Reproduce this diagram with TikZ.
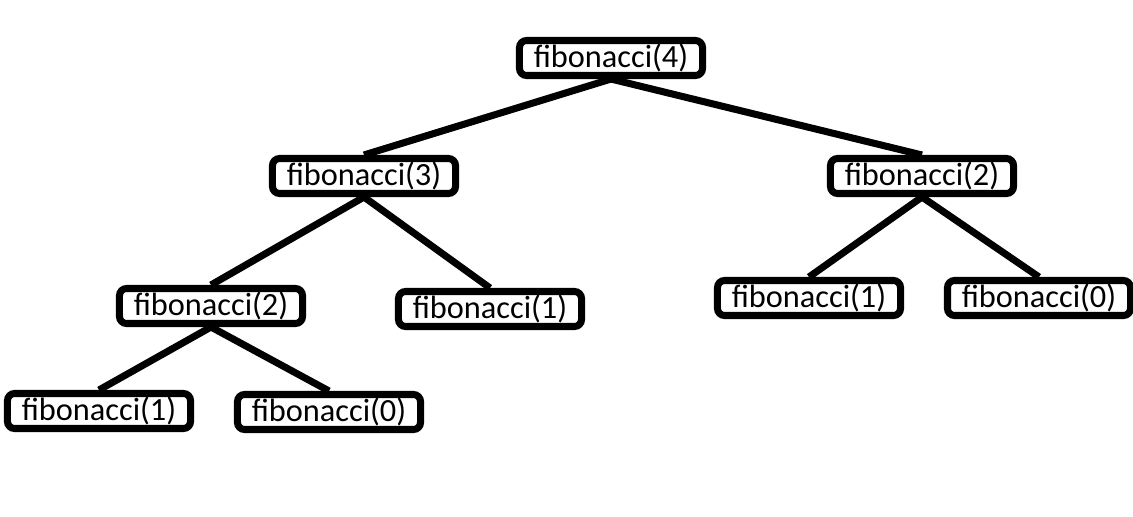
\documentclass[tikz,border=0pt]{standalone}
\usepackage{fontspec}
\setmainfont{Carlito}
\usepackage{tikz}
\usetikzlibrary{calc}

\begin{document}
\begin{tikzpicture}[x=0.025cm,y=-0.025cm,
  call/.style={draw=black,fill=white,line width=5pt,rounded corners=5pt,
    minimum width=4.575cm,minimum height=0.875cm,inner sep=0pt,
    font=\fontsize{23}{25}\selectfont},
  edge/.style={line width=5pt}]
\useasboundingbox[fill=white] (0,0) rectangle (1133,516);

% calls
\node[call] (f4) at (611,58) {fibonacci(4)};
\node[call] (f3) at (364,176) {fibonacci(3)};
\node[call] (f2r) at (922,176) {fibonacci(2)};
\node[call] (f2l) at (211,306) {fibonacci(2)};
\node[call] (f1m) at (490,309) {fibonacci(1)};
\node[call] (f1r) at (809,298) {fibonacci(1)};
\node[call] (f0r) at (1039,298) {fibonacci(0)};
\node[call] (f1l) at (99,411) {fibonacci(1)};
\node[call] (f0l) at (329,412) {fibonacci(0)};

% edges
\draw[edge] (f4.south) -- (f3.north);
\draw[edge] (f4.south) -- (f2r.north);
\draw[edge] (f3.south) -- (f2l.north);
\draw[edge] (f3.south) -- (f1m.north);
\draw[edge] (f2r.south) -- (f1r.north);
\draw[edge] (f2r.south) -- (f0r.north);
\draw[edge] (f2l.south) -- (f1l.north);
\draw[edge] (f2l.south) -- (f0l.north);
\end{tikzpicture}
\end{document}
